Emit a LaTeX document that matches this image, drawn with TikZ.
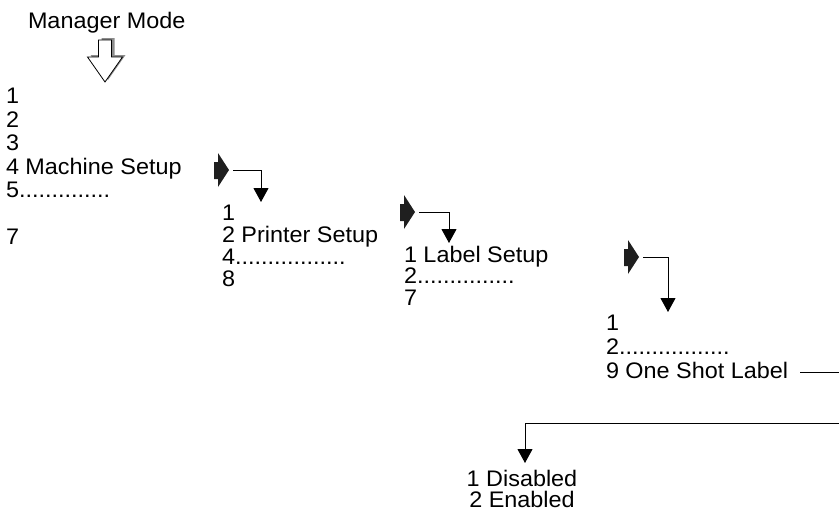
\documentclass[tikz,border=0pt]{standalone}
\usepackage{fontspec}
\setmainfont{Liberation Sans}[FakeStretch=1.04]
\usetikzlibrary{arrows.meta}
\begin{document}
\begin{tikzpicture}[x=1pt,y=-1pt,
  txt/.style={inner sep=0pt, outer sep=0pt, anchor=base west, align=left},
  fsA/.style={font=\fontsize{22.5}{23.5}\selectfont},
  fsB/.style={font=\fontsize{22.5}{22}\selectfont},
  fsC/.style={font=\fontsize{22.5}{21.5}\selectfont},
  fsD/.style={font=\fontsize{22.5}{24}\selectfont},
  fsE/.style={font=\fontsize{22.5}{21.5}\selectfont},
  conn/.style={line width=1pt, -{Triangle[width=15pt,length=14pt]}},
  wire/.style={line width=1pt},
  blockarrow/.pic={\fill[black!88] (-15,-8) -- (-11,-8) -- (-11,-17) -- (0,0) -- (-11,17) -- (-11,9) -- (-15,9) -- cycle;}
]
\useasboundingbox (0,0) rectangle (839,515);

% title and hollow arrow
\node[txt, fsA] (mm) at (28,28) {Manager Mode};
\fill[black!45, shift={(3,-2)}] (98.5,40) -- (111.5,40) -- (111.5,57) -- (122.5,57) -- (105,82) -- (87.5,57) -- (98.5,57) -- cycle;
\draw[fill=white, line width=0.8pt] (98.5,40) -- (111.5,40) -- (111.5,57) -- (122.5,57) -- (105,82) -- (87.5,57) -- (98.5,57) -- cycle;

% menu columns (anchored at the baseline of their last line)
\node[txt, fsA] (colA) at (6,244.5) {1\\2\\3\\4 Machine Setup\\5..............\\[23.5pt]7};
\node[txt, fsB] (colB) at (222,286) {1\\2 Printer Setup\\4.................\\8};
\node[txt, fsC] (colC) at (404,305) {1 Label Setup\\2...............\\7};
\node[txt, fsD] (colD) at (606,378) {1\\2.................\\9 One Shot Label};
\node[txt, fsE, anchor=base, align=center] (colE) at (522,507.5) {1 Disabled\\2 Enabled};

% block arrows
\coordinate (t1) at (229,170);
\coordinate (t2) at (415,212);
\coordinate (t3) at (639,257);
\pic at (t1) {blockarrow};
\pic at (t2) {blockarrow};
\pic at (t3) {blockarrow};

% connectors
\coordinate (c1) at (233,170); \coordinate (h1) at (261,202);
\coordinate (c2) at (419,212); \coordinate (h2) at (449,243);
\coordinate (c3) at (643,257); \coordinate (h3) at (668,312);
\draw[conn] (c1) -| (h1);
\draw[conn] (c2) -| (h2);
\draw[conn] (c3) -| (h3);

\coordinate (e9) at (800,372); \coordinate (r1) at (839,372);
\draw[wire] (e9) -- (r1);
\coordinate (r2) at (839,423); \coordinate (h5) at (525,463);
\draw[conn] (r2) -| (h5);
\end{tikzpicture}
\end{document}
